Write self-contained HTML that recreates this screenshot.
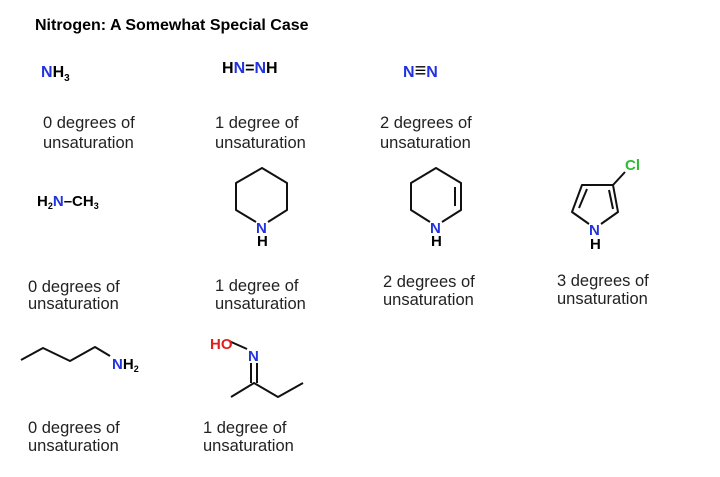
<!DOCTYPE html>
<html><head><meta charset="utf-8"><style>
html,body{margin:0;padding:0;background:#fff;}
svg{display:block;}
text{font-family:"Liberation Sans",Arial,sans-serif;}
.b{font-weight:bold;font-size:15px;fill:#000;}
.l{font-size:16.5px;fill:#222;}
.bl{fill:#2233dd;}
</style></head><body>
<svg width="720" height="477" viewBox="0 0 720 477" xmlns="http://www.w3.org/2000/svg">
<text x="35" y="30" class="b" style="font-size:16px">Nitrogen: A Somewhat Special Case</text>

<text x="41" y="77" class="b" style="font-size:16px"><tspan class="bl">N</tspan>H<tspan font-size="10" dy="4">3</tspan></text>
<text x="222" y="73" class="b" style="font-size:16px">H<tspan class="bl">N</tspan>=<tspan class="bl">N</tspan>H</text>
<text x="403" y="77" class="b" style="font-size:16px"><tspan class="bl">N</tspan><tspan style="font-size:20px">≡</tspan><tspan class="bl">N</tspan></text>

<g>
<text x="43" y="128" class="l">0 degrees of</text><text x="43" y="148" class="l">unsaturation</text>
<text x="215" y="128" class="l">1 degree of</text><text x="215" y="148" class="l">unsaturation</text>
<text x="380" y="128" class="l">2 degrees of</text><text x="380" y="148" class="l">unsaturation</text>

<text x="28" y="292" class="l">0 degrees of</text><text x="28" y="309" class="l">unsaturation</text>
<text x="215" y="291" class="l">1 degree of</text><text x="215" y="309" class="l">unsaturation</text>
<text x="383" y="287" class="l">2 degrees of</text><text x="383" y="305" class="l">unsaturation</text>
<text x="557" y="286" class="l">3 degrees of</text><text x="557" y="304" class="l">unsaturation</text>

<text x="28" y="433" class="l">0 degrees of</text><text x="28" y="451" class="l">unsaturation</text>
<text x="203" y="433" class="l">1 degree of</text><text x="203" y="451" class="l">unsaturation</text>
</g>

<text x="37" y="206" class="b" font-size="14">H<tspan font-size="9" dy="3">2</tspan><tspan dy="-3" class="bl">N</tspan>–CH<tspan font-size="9" dy="3">3</tspan></text>

<g stroke="#111" stroke-width="2" fill="none" stroke-linejoin="round">
<polyline points="256,222 236,210 236,183 262,168 287,183 287,210 268,222"/>
<polyline points="430,222 411,210 411,183 436,168 461,183 461,210 442,222"/>
<line x1="455" y1="187" x2="455" y2="206"/>
<polyline points="589,224 572,212 582,185 613,185 618,212 601,224"/>
<line x1="579" y1="208" x2="587" y2="189"/>
<line x1="609" y1="190" x2="613" y2="209"/>
<line x1="613" y1="185" x2="625" y2="172"/>
<polyline points="21,360 43,348 70,361 95,347 110,356"/>
<line x1="229" y1="341" x2="247" y2="349"/>
<line x1="251" y1="363" x2="251" y2="383"/>
<line x1="257" y1="363" x2="257" y2="383"/>
<polyline points="231,397 254,383 278,397 303,383"/>
</g>
<text x="256" y="233" class="b bl" font-size="14">N</text>
<text x="257" y="246" class="b" font-size="14">H</text>
<text x="430" y="233" class="b bl" font-size="14">N</text>
<text x="431" y="246" class="b" font-size="14">H</text>
<text x="589" y="235" class="b bl" font-size="14">N</text>
<text x="590" y="249" class="b" font-size="14">H</text>
<text x="625" y="170" class="b" font-size="14" style="fill:#33bb33">Cl</text>
<text x="112" y="369" class="b" font-size="14"><tspan class="bl">N</tspan>H<tspan font-size="9" dy="3">2</tspan></text>
<text x="210" y="349" class="b" font-size="14" style="fill:#e02020">HO</text>
<text x="248" y="361" class="b bl" font-size="14">N</text>
</svg>
</body></html>
